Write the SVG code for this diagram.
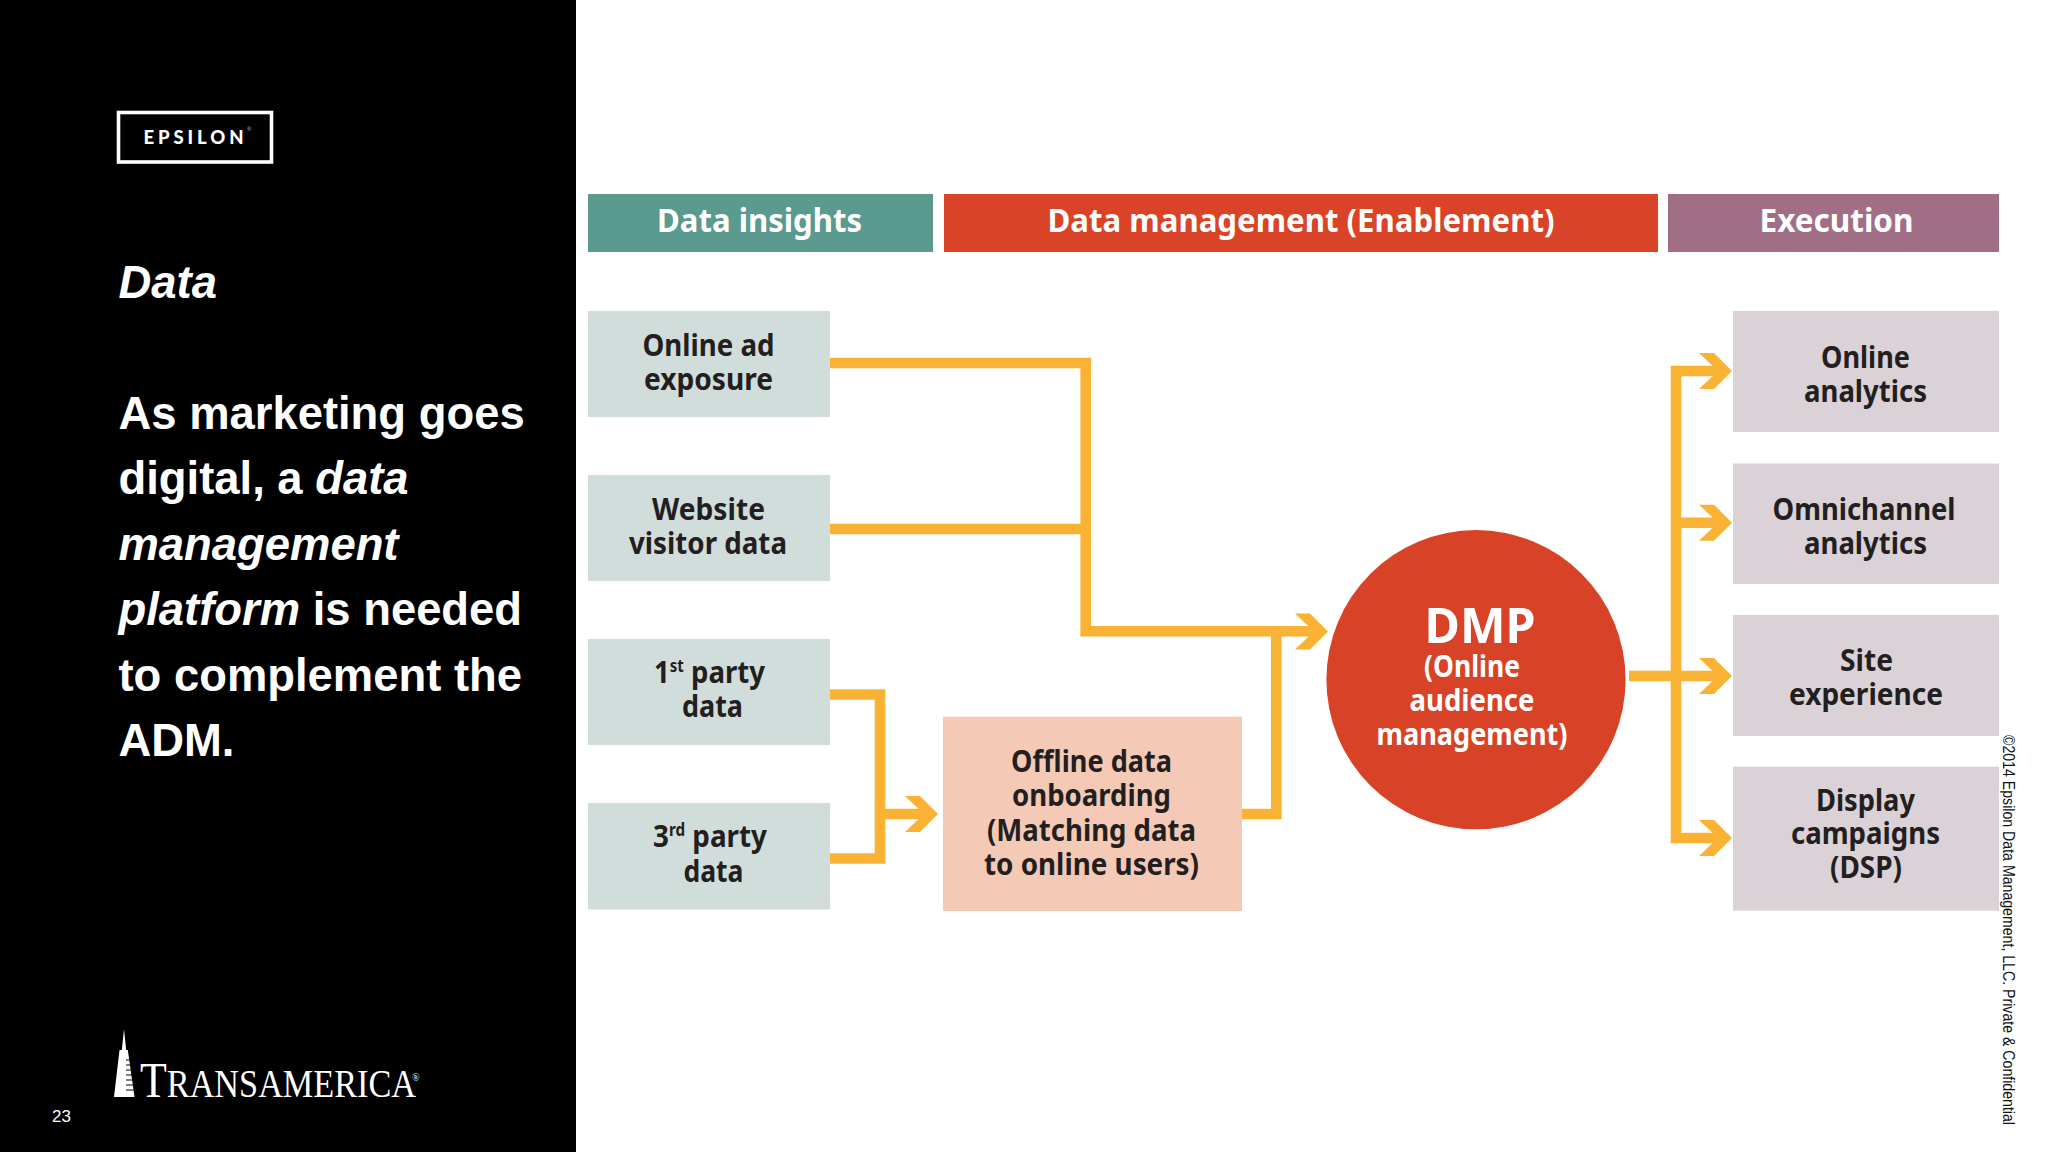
<svg xmlns="http://www.w3.org/2000/svg" width="2048" height="1152" viewBox="0 0 2048 1152">
<style>
.s{font-family:"Liberation Sans",Arial,sans-serif}
.lead{font-family:"Liberation Sans",Arial,sans-serif;font-size:45.4px;font-weight:700;fill:#fff}
.t{font-family:"Noto Sans",sans-serif;font-weight:700;font-size:31px;fill:#231f20;text-anchor:middle}
.h{font-family:"Noto Sans",sans-serif;font-weight:700;font-size:33px;fill:#fff;text-anchor:middle}
.w{font-family:"Noto Sans",sans-serif;font-weight:700;font-size:31px;fill:#fff;text-anchor:middle}
.sup{font-size:17px}
.tm{font-family:"Liberation Serif",serif;fill:#fff}
.c{fill:none;stroke:#f9b233;stroke-width:10.6;stroke-linejoin:miter}
.hd{fill:#f9b233}
</style>
<defs>
<polygon id="chev" points="-33,-18 -18,-18 0,0 -18,18 -33,18 -14,0"/>
</defs>
<rect width="2048" height="1152" fill="#fff"/>
<rect width="576" height="1152" fill="#000"/>

<g id="epsilon-logo">
<rect x="118.500" y="112.500" width="153" height="49.500" fill="none" stroke="#fff" stroke-width="3.6"/>
<text x="143.500" y="144" font-family="Lato,sans-serif" font-weight="900" font-size="18.500" letter-spacing="3.900" fill="#fff">EPSILON</text>
<text x="247" y="131" class="s" font-size="6" fill="#bbb">®</text>
</g>

<g id="side-text">
<text x="118.500" y="297.500" class="lead" font-style="italic">Data</text>
<text x="118.500" y="428.500" class="lead">As marketing goes</text>
<text x="118.500" y="494" class="lead">digital, a <tspan font-style="italic">data</tspan></text>
<text x="118.500" y="559.500" class="lead" font-style="italic">management</text>
<text x="118.500" y="625" class="lead"><tspan font-style="italic">platform</tspan> is needed</text>
<text x="118.500" y="690.500" class="lead">to complement the</text>
<text x="118.500" y="756" class="lead">ADM.</text>
<text x="52" y="1121.500" class="s" font-size="17" fill="#fff">23</text>
</g>

<g id="transamerica-logo">
<path d="M124 1029 L126.200 1050 L127.800 1050 L134.500 1097 L114 1097 L119.500 1050 L121.800 1050 Z" fill="#fff"/>
<path d="M126 1060H129M126 1065H130M126 1070H131M126 1075H132M126 1080H132.500M126 1085H133M126 1090H134" stroke="#000" stroke-width="1.200"/>
<text x="140" y="1097" class="tm" font-size="50" textLength="276" lengthAdjust="spacingAndGlyphs">T<tspan font-size="39">RANSAMERICA</tspan></text>
<text x="412" y="1081" class="tm" font-size="10">®</text>
</g>

<g id="connectors">
<path class="c" d="M830 363H1085.700V631.300H1316"/>
<path class="c" d="M830 529H1085.700"/>
<path class="c" d="M1242 814H1276.300V631"/>
<path class="c" d="M830 694.500H880V858.500H830"/>
<path class="c" d="M880 814H926"/>
<path class="c" d="M1629 676H1720"/>
<path class="c" d="M1720 371H1676V838H1720"/>
<path class="c" d="M1676 522.700H1720"/>
<use href="#chev" x="1328" y="631.500" class="hd"/>
<use href="#chev" x="938" y="814" class="hd"/>
<use href="#chev" x="1732" y="371" class="hd"/>
<use href="#chev" x="1732" y="522.700" class="hd"/>
<use href="#chev" x="1732" y="676" class="hd"/>
<use href="#chev" x="1732" y="838" class="hd"/>
</g>

<g id="header-insights">
<rect x="588" y="194" width="345" height="58" fill="#5b9a8f"/>
<text class="h" x="759.600" y="232" textLength="205" lengthAdjust="spacingAndGlyphs">Data insights</text>
</g>
<g id="header-management">
<rect x="944" y="194" width="714" height="58" fill="#d94327"/>
<text class="h" x="1301" y="232" textLength="507" lengthAdjust="spacingAndGlyphs">Data management (Enablement)</text>
</g>
<g id="header-execution">
<rect x="1668" y="194" width="331" height="58" fill="#a06f85"/>
<text class="h" x="1836.500" y="232" textLength="154" lengthAdjust="spacingAndGlyphs">Execution</text>
</g>

<g id="online-ad">
<rect x="588" y="311" width="242" height="106" fill="#d1dddb"/>
<text class="t" x="708.500" y="356" textLength="132" lengthAdjust="spacingAndGlyphs">Online ad</text>
<text class="t" x="708.500" y="390" textLength="129" lengthAdjust="spacingAndGlyphs">exposure</text>
</g>
<g id="website-visitor">
<rect x="588" y="475" width="242" height="106" fill="#d1dddb"/>
<text class="t" x="708.500" y="520" textLength="113" lengthAdjust="spacingAndGlyphs">Website</text>
<text class="t" x="708" y="554" textLength="158" lengthAdjust="spacingAndGlyphs">visitor data</text>
</g>
<g id="first-party">
<rect x="588" y="639" width="242" height="106" fill="#d1dddb"/>
<text class="t" x="709.500" y="682.500" textLength="111" lengthAdjust="spacingAndGlyphs">1<tspan class="sup" dy="-11">st</tspan><tspan dy="11"> party</tspan></text>
<text class="t" x="712.500" y="717" textLength="61" lengthAdjust="spacingAndGlyphs">data</text>
</g>
<g id="third-party">
<rect x="588" y="803" width="242" height="106.500" fill="#d1dddb"/>
<text class="t" x="710" y="847" textLength="114" lengthAdjust="spacingAndGlyphs">3<tspan class="sup" dy="-11">rd</tspan><tspan dy="11"> party</tspan></text>
<text class="t" x="713.500" y="881.500" textLength="60" lengthAdjust="spacingAndGlyphs">data</text>
</g>
<g id="offline-onboarding">
<rect x="943" y="716.700" width="299" height="194.300" fill="#f4c9b5"/>
<text class="t" x="1091.500" y="772" textLength="161" lengthAdjust="spacingAndGlyphs">Offline data</text>
<text class="t" x="1091.500" y="806" textLength="159" lengthAdjust="spacingAndGlyphs">onboarding</text>
<text class="t" x="1091.500" y="840.500" textLength="209" lengthAdjust="spacingAndGlyphs">(Matching data</text>
<text class="t" x="1091.500" y="874.500" textLength="215" lengthAdjust="spacingAndGlyphs">to online users)</text>
</g>
<g id="dmp">
<circle cx="1476" cy="679.700" r="149.600" fill="#d84327"/>
<text class="w" x="1480" y="642.700" style="font-size:48px" textLength="111" lengthAdjust="spacingAndGlyphs">DMP</text>
<text class="w" x="1472" y="676.700" textLength="96" lengthAdjust="spacingAndGlyphs">(Online</text>
<text class="w" x="1472" y="710.700" textLength="125" lengthAdjust="spacingAndGlyphs">audience</text>
<text class="w" x="1472" y="745" textLength="191" lengthAdjust="spacingAndGlyphs">management)</text>
</g>
<g id="online-analytics">
<rect x="1733" y="311" width="266" height="121" fill="#dad2d6"/>
<text class="t" x="1865.500" y="367.500" textLength="89" lengthAdjust="spacingAndGlyphs">Online</text>
<text class="t" x="1865.500" y="401.500" textLength="123" lengthAdjust="spacingAndGlyphs">analytics</text>
</g>
<g id="omnichannel-analytics">
<rect x="1733" y="463.500" width="266" height="120.500" fill="#dad2d6"/>
<text class="t" x="1864" y="519.500" textLength="183" lengthAdjust="spacingAndGlyphs">Omnichannel</text>
<text class="t" x="1865.500" y="553.500" textLength="123" lengthAdjust="spacingAndGlyphs">analytics</text>
</g>
<g id="site-experience">
<rect x="1733" y="615" width="266" height="121" fill="#dad2d6"/>
<text class="t" x="1866.500" y="671" textLength="53" lengthAdjust="spacingAndGlyphs">Site</text>
<text class="t" x="1866" y="705" textLength="154" lengthAdjust="spacingAndGlyphs">experience</text>
</g>
<g id="display-campaigns">
<rect x="1733" y="766.700" width="266" height="144" fill="#dad2d6"/>
<text class="t" x="1865.500" y="810.700" textLength="99" lengthAdjust="spacingAndGlyphs">Display</text>
<text class="t" x="1865.500" y="844" textLength="149" lengthAdjust="spacingAndGlyphs">campaigns</text>
<text class="t" x="1866" y="878" textLength="72" lengthAdjust="spacingAndGlyphs">(DSP)</text>
</g>

<text class="s" transform="translate(2003 735) rotate(90) scale(1 1.15)" font-size="14.600" fill="#111" textLength="390" lengthAdjust="spacingAndGlyphs">©2014 Epsilon Data Management, LLC. Private &amp; Confidential</text>
</svg>
